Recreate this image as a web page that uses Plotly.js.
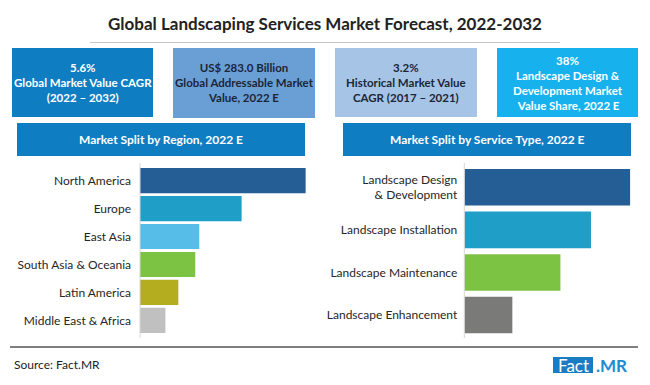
<!DOCTYPE html>
<html>
<head>
<meta charset="utf-8">
<script src="https://cdn.plot.ly/plotly-3.0.1.min.js"></script>
<style>html,body{margin:0;padding:0;background:#fff;}#chart{width:650px;height:385px;}</style>
</head>
<body>
<div id="chart"></div>
<script>
// ---- data ----
var chartTitle = "Global Landscaping Services Market Forecast, 2022-2032";
var kpiValues = ["5.6%", "US$ 283.0 Billion", "3.2%", "38%"];
var kpiLabels = [
  "Global Market Value CAGR<br>(2022 – 2032)",
  "Global Addressable Market<br>Value, 2022 E",
  "Historical Market Value<br>CAGR (2017 – 2021)",
  "Landscape Design &<br>Development Market<br> Value Share, 2022 E"
];
var panelTitles = ["Market Split by Region, 2022 E", "Market Split by Service Type, 2022 E"];
var regions = ["North America", "Europe", "East Asia", "South Asia & Oceania", "Latin America", "Middle East & Africa"];
var regionShare = [37.2, 22.8, 13.3, 12.4, 8.6, 5.7];
var services = ["Landscape Design<br>& Development", "Landscape Installation", "Landscape Maintenance", "Landscape Enhancement"];
var serviceShare = [38, 29, 22, 11];
var sourceText = "Source: Fact.MR";

// ---- styles ----
var W = 650, H = 385;
function px(x){ return x / W; }
function py(y){ return 1 - y / H; }
var regionColors = ["#255d95", "#1f9ec8", "#56bde9", "#7cc243", "#b4ad1f", "#c0c0c0"];
var serviceColors = ["#255d95", "#1f9ec8", "#7cc243", "#7a7a78"];
var kpiFill = ["#0f7dc2", "#6a9fd6", "#a6c5e6", "#17b2ee"];
var kpiText = ["#ffffff", "#1b2636", "#1b2636", "#ffffff"];
var kpiBox = [[12,48,153,117],[173,48,315,118],[335,48,477,117],[497,48,638,117]];
var headerBox = [[17,123,305,156],[343,123,631,156]];
var FONT = "Lato, 'Liberation Sans', Arial, sans-serif";

var traces = [
  {
    type: "bar", orientation: "h",
    x: regionShare, y: regions,
    marker: {color: regionColors},
    width: 0.9,
    xaxis: "x", yaxis: "y",
    hoverinfo: "x+y"
  },
  {
    type: "bar", orientation: "h",
    x: serviceShare, y: services,
    marker: {color: serviceColors},
    width: 0.86,
    xaxis: "x2", yaxis: "y2",
    hoverinfo: "x+y"
  }
];

var shapes = [];
var annotations = [];

// title
annotations.push({
  text: "<b>" + chartTitle + "</b>", xref: "paper", yref: "paper",
  x: px(325), y: py(23), xanchor: "center", yanchor: "middle", showarrow: false,
  font: {family: FONT, size: 17, color: "#222222"}
});
shapes.push({type: "line", xref: "paper", yref: "paper", x0: px(90), x1: px(560), y0: py(42.5), y1: py(42.5),
  line: {color: "#c4c4c4", width: 1}});

// KPI boxes
for (var i = 0; i < kpiValues.length; i++) {
  var b = kpiBox[i];
  shapes.push({type: "rect", xref: "paper", yref: "paper", x0: px(b[0]), x1: px(b[2]), y0: py(b[3]), y1: py(b[1]),
    fillcolor: kpiFill[i], line: {width: 0}, layer: "below"});
  annotations.push({
    text: "<b>" + kpiValues[i] + "<br>" + kpiLabels[i] + "</b>",
    xref: "paper", yref: "paper", x: px((b[0] + b[2]) / 2), y: py((b[1] + b[3]) / 2),
    xanchor: "center", yanchor: "middle", showarrow: false, align: "center",
    font: {family: FONT, size: 11.5, color: kpiText[i]}
  });
}

// panel headers
for (var j = 0; j < panelTitles.length; j++) {
  var h = headerBox[j];
  shapes.push({type: "rect", xref: "paper", yref: "paper", x0: px(h[0]), x1: px(h[2]), y0: py(h[3]), y1: py(h[1]),
    fillcolor: "#0f7dc2", line: {width: 0}, layer: "below"});
  annotations.push({
    text: "<b>" + panelTitles[j] + "</b>", xref: "paper", yref: "paper",
    x: px((h[0] + h[2]) / 2), y: py((h[1] + h[3]) / 2), xanchor: "center", yanchor: "middle",
    showarrow: false, font: {family: FONT, size: 12, color: "#ffffff"}
  });
}

// axis lines
shapes.push({type: "line", xref: "paper", yref: "paper", x0: px(140), x1: px(140), y0: py(163), y1: py(338),
  line: {color: "#d6d6d6", width: 1}});
shapes.push({type: "line", xref: "paper", yref: "paper", x0: px(464.3), x1: px(464.3), y0: py(163), y1: py(338),
  line: {color: "#d6d6d6", width: 1}});

// footer
shapes.push({type: "line", xref: "paper", yref: "paper", x0: px(10), x1: px(638), y0: py(347), y1: py(347),
  line: {color: "#555555", width: 1.5}});
annotations.push({
  text: sourceText, xref: "paper", yref: "paper", x: px(12), y: py(364),
  xanchor: "left", yanchor: "middle", showarrow: false,
  font: {family: FONT, size: 12, color: "#222222"}
});
shapes.push({type: "rect", xref: "paper", yref: "paper", x0: px(553), x1: px(593), y0: py(373), y1: py(357),
  fillcolor: "#1a7dc3", line: {width: 0}});
annotations.push({
  text: "Fact", xref: "paper", yref: "paper", x: px(573), y: py(365.5),
  xanchor: "center", yanchor: "middle", showarrow: false,
  font: {family: FONT, size: 17, color: "#ffffff"}
});
annotations.push({
  text: "<b>.MR</b>", xref: "paper", yref: "paper", x: px(594), y: py(365.5),
  xanchor: "left", yanchor: "middle", showarrow: false,
  font: {family: FONT, size: 17, color: "#1b8bd3"}
});

var yaxisCommon = {
  type: "category", autorange: "reversed", showgrid: false, zeroline: false, showline: false,
  ticks: "", ticklabelstandoff: 8, tickfont: {family: FONT, size: 12, color: "#262626"}, fixedrange: true
};

var layout = {
  width: W, height: H,
  margin: {l: 0, r: 0, t: 0, b: 0},
  paper_bgcolor: "#ffffff", plot_bgcolor: "rgba(0,0,0,0)",
  showlegend: false,
  xaxis: {domain: [px(140), px(305.8)], range: [0, 37.2], visible: false, fixedrange: true},
  yaxis: Object.assign({}, yaxisCommon, {domain: [py(334.4), py(166.6)], anchor: "x"}),
  xaxis2: {domain: [px(464.3), px(630.3)], range: [0, 38], visible: false, fixedrange: true, anchor: "y2"},
  yaxis2: Object.assign({}, yaxisCommon, {domain: [py(336.3), py(166)], anchor: "x2", ticklabelstandoff: 6}),
  shapes: shapes,
  annotations: annotations
};

Plotly.newPlot("chart", traces, layout, {displayModeBar: false, staticPlot: true});
</script>
</body>
</html>
